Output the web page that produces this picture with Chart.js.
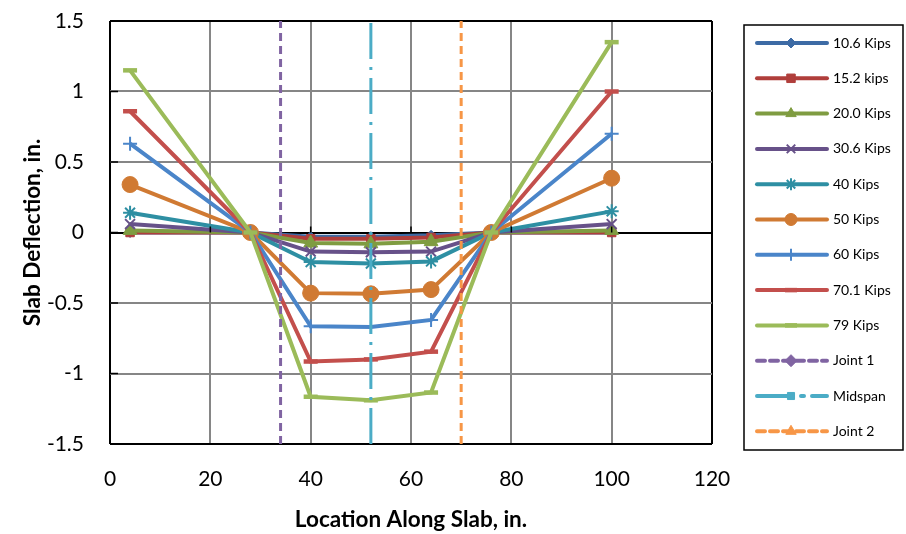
<!DOCTYPE html>
<html>
<head>
<meta charset="utf-8">
<script src="https://cdn.jsdelivr.net/npm/chart.js"></script>
<style>
    body { margin: 0; background: #fff; }
    #wrap { width: 906px; height: 534px; }
</style>
</head>
<body>
<div id="wrap"><canvas id="myChart" width="906" height="534"></canvas></div>
<script>
// gauge locations along the slab (in.)
const xLocations = [4, 28, 40, 52, 64, 76, 100];

const loadLabels = ['10.6 Kips', '15.2 kips', '20.0 Kips', '30.6 Kips', '40 Kips', '50 Kips', '60 Kips', '70.1 Kips', '79 Kips'];

// deflection (in.) at each location, one array per load
const defl106 = [0, 0, -0.03, -0.03, -0.02, 0, 0];
const defl152 = [0, 0, -0.045, -0.045, -0.035, 0, 0];
const defl200 = [0.015, 0, -0.075, -0.08, -0.065, 0, 0.015];
const defl306 = [0.06, 0, -0.135, -0.14, -0.135, 0, 0.06];
const defl40 = [0.14, 0, -0.21, -0.22, -0.205, 0, 0.15];
const defl50 = [0.34, 0, -0.43, -0.435, -0.405, 0, 0.385];
const defl60 = [0.63, 0, -0.665, -0.67, -0.62, 0, 0.70];
const defl701 = [0.86, 0, -0.915, -0.90, -0.845, 0, 1.0];
const defl79 = [1.15, 0, -1.165, -1.19, -1.135, 0, 1.35];

// reference lines
const markLabels = ['Joint 1', 'Midspan', 'Joint 2'];
const markX = [34, 52, 70];
const markY = [-1.5, 1.5];

const xTicks = [0, 20, 40, 60, 80, 100, 120];
const yTicks = [-1.5, -1, -0.5, 0, 0.5, 1, 1.5];

const loadSeries = [defl106, defl152, defl200, defl306, defl40, defl50, defl60, defl701, defl79];
const loadColors = ['#3D6BA5', '#B03E3B', '#7F9C41', '#675189', '#2E8FA3', '#D07A33', '#4A85C9', '#C34F4C', '#9BBB59'];
const loadMarkers = [
    { style: 'rectRot', r: 5, bw: 1 },
    { style: 'rect', r: 6, bw: 1 },
    { style: 'triangle', r: 8, bw: 1 },
    { style: 'crossRot', r: 7, bw: 2 },
    { style: 'star', r: 7, bw: 2 },
    { style: 'circle', r: 8, bw: 1 },
    { style: 'cross', r: 7, bw: 2 },
    { style: 'line', r: 7, bw: 4.5 },
    { style: 'line', r: 7, bw: 4.5 }
];
const markColors = ['#8064A2', '#4BACC6', '#F79646'];
const markDash = [[8, 5], [36, 8, 3, 8], [8, 5]];
const markMarkers = [
    { style: 'rectRot', r: 6, bw: 1 },
    { style: 'rect', r: 5, bw: 1 },
    { style: 'triangle', r: 6, bw: 1 }
];

const total = loadSeries.length + markX.length;
const datasets = [];
loadSeries.forEach((ys, i) => {
    datasets.push({
        label: loadLabels[i],
        data: xLocations.map((x, j) => ({ x: x, y: ys[j] })),
        showLine: true,
        borderColor: loadColors[i],
        backgroundColor: loadColors[i],
        borderWidth: 4,
        pointStyle: loadMarkers[i].style,
        pointRadius: loadMarkers[i].r,
        pointBorderWidth: loadMarkers[i].bw,
        order: total - i
    });
});
markX.forEach((x, i) => {
    datasets.push({
        label: markLabels[i],
        data: markY.map(y => ({ x: x, y: y })),
        showLine: true,
        borderColor: markColors[i],
        backgroundColor: markColors[i],
        borderWidth: 3,
        borderDash: markDash[i],
        pointRadius: 0,
        order: total - loadSeries.length - i
    });
});

const FONT = "Lato, 'Liberation Sans', sans-serif";

const drawMarker = (ctx, m, x, y) => {
    if (Chart.helpers && Chart.helpers.drawPoint) {
        Chart.helpers.drawPoint(ctx, { pointStyle: m.style, radius: m.r, rotation: 0, borderWidth: m.bw }, x, y);
        return;
    }
    ctx.beginPath();
    ctx.arc(x, y, m.r, 0, Math.PI * 2);
    ctx.fill();
};

// legend with line + marker, plus small axis tick marks
const extrasPlugin = {
    id: 'extras',
    afterDatasetsDraw(chart) {
        const ctx = chart.ctx;
        const xs = chart.scales.x, ys = chart.scales.y;
        const area = chart.chartArea;
        ctx.save();
        ctx.strokeStyle = '#000';
        ctx.lineWidth = 1.5;
        const y0 = ys.getPixelForValue(0);
        xTicks.forEach(v => {
            const px = xs.getPixelForValue(v);
            ctx.beginPath();
            ctx.moveTo(px, y0);
            ctx.lineTo(px, y0 - 6);
            ctx.stroke();
        });
        yTicks.forEach(v => {
            const py = ys.getPixelForValue(v);
            ctx.beginPath();
            ctx.moveTo(area.left, py);
            ctx.lineTo(area.left + 8, py);
            ctx.stroke();
        });

        // legend box
        ctx.lineWidth = 1.5;
        ctx.strokeRect(744, 25, 159, 425);
        ctx.font = '14px ' + FONT;
        ctx.textBaseline = 'middle';
        ctx.textAlign = 'left';
        const allLabels = loadLabels.concat(markLabels);
        const allColors = loadColors.concat(markColors);
        const allMarkers = loadMarkers.concat(markMarkers);
        allLabels.forEach((lab, i) => {
            const ly = 43 + i * 35.3;
            const isMark = i >= loadLabels.length;
            ctx.strokeStyle = allColors[i];
            ctx.fillStyle = allColors[i];
            ctx.lineWidth = 4;
            ctx.lineCap = 'round';
            ctx.setLineDash(isMark ? markDash[i - loadLabels.length] : []);
            ctx.beginPath();
            ctx.moveTo(757, ly);
            ctx.lineTo(827, ly);
            ctx.stroke();
            ctx.setLineDash([]);
            ctx.lineCap = 'butt';
            ctx.lineWidth = allMarkers[i].bw;
            const lm = Object.assign({}, allMarkers[i], { r: Math.min(allMarkers[i].r, 6) });
            drawMarker(ctx, lm, 791, ly);
            ctx.fillStyle = '#000';
            ctx.fillText(lab, 833, ly);
        });
        ctx.restore();
    }
};

const edgeColor = (vals) => (c) => vals.includes(c.tick.value) ? '#000' : '#868686';

var ctx = document.getElementById('myChart').getContext('2d');
new Chart(ctx, {
    type: 'scatter',
    data: { datasets: datasets },
    options: {
        responsive: false,
        animation: false,
        layout: { autoPadding: false, padding: { top: 21, right: 194, left: 0, bottom: 0 } },
        plugins: { legend: { display: false }, tooltip: { enabled: false } },
        scales: {
            x: {
                type: 'linear',
                min: 0, max: 120,
                afterFit: (s) => { s.height = 90; s.paddingLeft = 0; s.paddingRight = 0; },
                afterBuildTicks: (s) => { s.ticks = xTicks.map(v => ({ value: v })); },
                ticks: { color: '#000', font: { family: FONT, size: 21 }, padding: 23 },
                grid: { color: edgeColor([0, 120]), lineWidth: 2, drawTicks: false },
                border: { display: false },
                title: { display: true, text: 'Location Along Slab, in.', color: '#000', font: { family: FONT, size: 22.5, weight: 'bold' }, padding: { top: 0, bottom: 1 } }
            },
            y: {
                type: 'linear',
                min: -1.5, max: 1.5,
                afterFit: (s) => { s.width = 110; s.paddingTop = 0; s.paddingBottom = 0; },
                afterBuildTicks: (s) => { s.ticks = yTicks.map(v => ({ value: v })); },
                ticks: { color: '#000', font: { family: FONT, size: 21 }, padding: 26, callback: (v) => String(v) },
                grid: { color: edgeColor([-1.5, 0, 1.5]), lineWidth: 2, drawTicks: false },
                border: { display: false },
                title: { display: true, text: 'Slab Deflection, in.', color: '#000', font: { family: FONT, size: 22.5, weight: 'bold' }, padding: { top: 19, bottom: 0 } }
            }
        }
    },
    plugins: [extrasPlugin]
});
</script>
</body>
</html>
